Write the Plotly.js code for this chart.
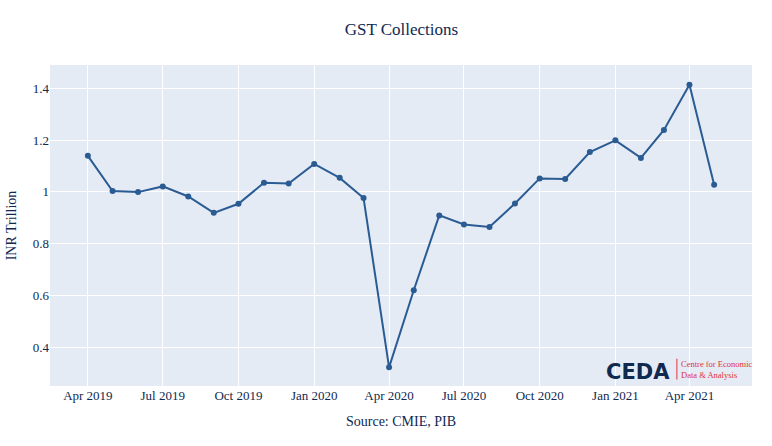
<!DOCTYPE html>
<html>
<head>
<meta charset="utf-8">
<script src="https://cdn.plot.ly/plotly-3.0.1.min.js"></script>
<style>
  body { margin: 0; background: #fff; }
  #chart { width: 772px; height: 446px; }
</style>
</head>
<body>
<div id="chart"></div>
<script>
// monthly GST collections, INR trillion
const months = [
	'2019-04-01','2019-05-01','2019-06-01','2019-07-01','2019-08-01','2019-09-01',
	'2019-10-01','2019-11-01','2019-12-01','2020-01-01','2020-02-01','2020-03-01',
	'2020-04-01','2020-05-01','2020-06-01','2020-07-01','2020-08-01','2020-09-01',
	'2020-10-01','2020-11-01','2020-12-01','2021-01-01','2021-02-01','2021-03-01',
	'2021-04-01','2021-05-01'
];
const gst = [
	1.139, 1.003, 0.999, 1.021, 0.982, 0.919,
	0.954, 1.035, 1.032, 1.108, 1.054, 0.976,
	0.322, 0.620, 0.909, 0.874, 0.864, 0.955,
	1.052, 1.050, 1.154, 1.199, 1.131, 1.239,
	1.414, 1.027
];
const tickVals = ['2019-04-01','2019-07-01','2019-10-01','2020-01-01','2020-04-01','2020-07-01','2020-10-01','2021-01-01','2021-04-01'];
const tickText = ['Apr 2019','Jul 2019','Oct 2019','Jan 2020','Apr 2020','Jul 2020','Oct 2020','Jan 2021','Apr 2021'];
const yTicks = [0.4, 0.6, 0.8, 1, 1.2, 1.4];

const navy = '#10294f';
const red = '#e0323c';
const serif = 'Georgia, "Liberation Serif", serif';

const data = [{
	x: months,
	y: gst,
	type: 'scatter',
	mode: 'lines+markers',
	line: { color: '#2a5c93', width: 2 },
	marker: { color: '#2a5c93', size: 6 },
	hoverinfo: 'x+y'
}];

const layout = {
	width: 772,
	height: 446,
	margin: { l: 50, r: 20, t: 65, b: 60 },
	paper_bgcolor: '#ffffff',
	plot_bgcolor: '#e5ebf5',
	font: { family: serif, color: navy, size: 13 },
	title: {
		text: 'GST Collections',
		font: { family: serif, size: 17, color: navy },
		x: 0.52, xanchor: 'center', y: 0.935, yanchor: 'middle'
	},
	showlegend: false,
	xaxis: {
		type: 'date',
		range: ['2019-02-14', '2021-06-16'],
		tickvals: tickVals,
		ticktext: tickText,
		gridcolor: '#ffffff',
		gridwidth: 1,
		zeroline: false,
		showline: false,
		ticks: '',
		title: { text: 'Source: CMIE, PIB', font: { family: serif, size: 14, color: navy }, standoff: 14 }
	},
	yaxis: {
		range: [0.25, 1.49],
		tickvals: yTicks,
		ticktext: yTicks.map(v => String(v)),
		gridcolor: '#ffffff',
		gridwidth: 1,
		zeroline: false,
		showline: false,
		ticks: '',
		title: { text: 'INR Trillion', font: { family: serif, size: 14, color: navy }, standoff: 12 }
	},
	shapes: [{
		type: 'line', xref: 'paper', yref: 'paper',
		x0: 0.893, x1: 0.893, y0: 0.02, y1: 0.085,
		line: { color: red, width: 1 }
	}],
	annotations: [
		{
			xref: 'paper', yref: 'paper', x: 0.886, y: 0.045,
			xanchor: 'right', yanchor: 'middle', showarrow: false,
			text: '<b>CEDA</b>',
			font: { family: '"DejaVu Sans", sans-serif', size: 21, color: navy }
		},
		{
			xref: 'paper', yref: 'paper', x: 0.896, y: 0.052,
			xanchor: 'left', yanchor: 'middle', showarrow: false, align: 'left',
			text: 'Centre for Economic<br>Data &amp; Analysis',
			font: { family: serif, size: 8.5, color: red }
		}
	]
};

Plotly.newPlot('chart', data, layout, { staticPlot: false, displayModeBar: false });
</script>
</body>
</html>
